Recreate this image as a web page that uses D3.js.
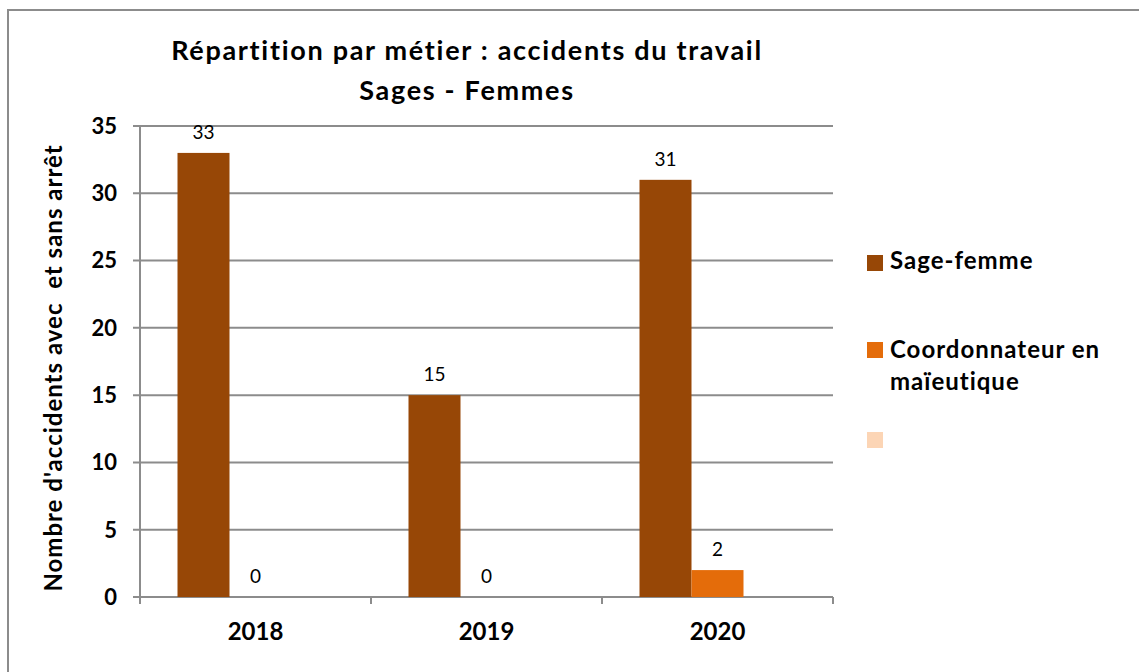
<!DOCTYPE html>
<html>
<head>
<meta charset="utf-8">
<script src="https://cdn.jsdelivr.net/npm/d3@7"></script>
<style>
  body { margin: 0; background: #fff; }
  text { font-family: Lato, "Open Sans", sans-serif; fill: #000; }
  .bold { font-weight: bold; }
</style>
</head>
<body>
<div id="viz"></div>
<script>
var years = ["2018", "2019", "2020"];
var series = ["Sage-femme", "Coordonnateur en maïeutique", ""];
var sageFemme = [33, 15, 31];
var coordonnateur = [0, 0, 2];
var empty = [null, null, null];
var yTicks = [0, 5, 10, 15, 20, 25, 30, 35];
var colors = ["#974706", "#E46C0A", "#FCD5B5"];

var width = 1139, height = 672;
var svg = d3.select("#viz").append("svg").attr("width", width).attr("height", height);

var values = [sageFemme, coordonnateur, empty];
var data = years.map(function(yr, i) {
  return { year: yr, vals: series.map(function(s, j) { return { key: j, v: values[j][i] }; }) };
});

// frame (only top and left edges are visible)
svg.append("rect")
    .attr("x", 8).attr("y", 10)
    .attr("width", 1200).attr("height", 700)
    .attr("fill", "none")
    .attr("stroke", "#8c8c8c")
    .attr("stroke-width", 2);

var plotL = 140, plotR = 833, plotT = 126, plotB = 597;

var x = d3.scaleBand().domain(years).range([plotL, plotR]);
var bw = 52;
var xs = d3.scaleBand().domain([0, 1, 2]).range([0, bw * 3]);
var y = d3.scaleLinear().domain([0, 35]).range([plotB, plotT]);

// gridlines
svg.append("g").selectAll("line")
  .data(yTicks)
  .enter().append("line")
    .attr("x1", plotL - 7).attr("x2", plotR)
    .attr("y1", function(d) { return y(d); })
    .attr("y2", function(d) { return y(d); })
    .attr("stroke", "#8c8c8c")
    .attr("stroke-width", 2);

// y axis line
svg.append("line")
    .attr("x1", plotL).attr("x2", plotL)
    .attr("y1", plotT).attr("y2", plotB + 7)
    .attr("stroke", "#8c8c8c").attr("stroke-width", 2);

// x ticks at category boundaries
var bounds = years.map(function(d) { return x(d); }).concat([plotR]);
svg.append("g").selectAll("line")
  .data(bounds)
  .enter().append("line")
    .attr("x1", function(d) { return d; }).attr("x2", function(d) { return d; })
    .attr("y1", plotB).attr("y2", plotB + 7)
    .attr("stroke", "#8c8c8c").attr("stroke-width", 2);

// y tick labels
svg.append("g").selectAll("text")
  .data(yTicks)
  .enter().append("text")
    .attr("class", "bold")
    .attr("x", 117)
    .attr("y", function(d) { return y(d); })
    .attr("dy", "0.36em")
    .attr("text-anchor", "end")
    .style("font-size", "22px")
    .text(function(d) { return d; });

// x tick labels
svg.append("g").selectAll("text")
  .data(years)
  .enter().append("text")
    .attr("class", "bold")
    .attr("x", function(d) { return x(d) + x.bandwidth() / 2; })
    .attr("y", 640)
    .attr("text-anchor", "middle")
    .style("font-size", "24px")
    .text(function(d) { return d; });

// bars
var group = svg.append("g").selectAll("g")
  .data(data)
  .enter().append("g")
    .attr("transform", function(d) { return "translate(" + (x(d.year) + (x.bandwidth() - bw * 3) / 2) + ",0)"; });

group.selectAll("rect")
  .data(function(d) { return d.vals.filter(function(v) { return v.v != null; }); })
  .enter().append("rect")
    .attr("x", function(d) { return xs(d.key); })
    .attr("width", xs.bandwidth())
    .attr("y", function(d) { return y(d.v); })
    .attr("height", function(d) { return plotB - y(d.v); })
    .attr("fill", function(d) { return colors[d.key]; });

group.selectAll("text")
  .data(function(d) { return d.vals.filter(function(v) { return v.v != null; }); })
  .enter().append("text")
    .attr("x", function(d) { return xs(d.key) + xs.bandwidth() / 2; })
    .attr("y", function(d) { return y(d.v) - 14; })
    .attr("text-anchor", "middle")
    .style("font-size", "19px")
    .text(function(d) { return d.v; });

// title
var title = svg.append("text")
    .attr("class", "bold")
    .attr("text-anchor", "middle")
    .style("font-size", "27px")
    .style("letter-spacing", "1.7px");
title.append("tspan").attr("x", 467).attr("y", 60).text("Répartition par métier : accidents du travail");
title.append("tspan").attr("x", 467).attr("y", 100).text("Sages - Femmes");

// y axis title
svg.append("text")
    .attr("class", "bold")
    .attr("transform", "translate(62,368) rotate(-90)")
    .attr("text-anchor", "middle")
    .style("font-size", "24px")
    .style("letter-spacing", "1px")
    .style("white-space", "pre")
    .text("Nombre d'accidents avec  et sans arrêt");

// legend
var legendY = [263, 350, 440];
var legend = svg.append("g").selectAll("g")
  .data(series)
  .enter().append("g")
    .attr("transform", function(d, i) { return "translate(867," + legendY[i] + ")"; });

legend.append("rect")
    .attr("x", 0).attr("y", -8)
    .attr("width", 16).attr("height", 16)
    .attr("fill", function(d, i) { return colors[i]; });

legend.append("text")
    .attr("class", "bold")
    .attr("x", 23)
    .attr("y", 6)
    .style("font-size", "24px")
    .style("letter-spacing", "1px")
    .each(function(d) {
      var t = d3.select(this);
      if (d == "Coordonnateur en maïeutique") {
        t.attr("y", 8);
        t.append("tspan").attr("x", 23).text("Coordonnateur en");
        t.append("tspan").attr("x", 23).attr("dy", 32).text("maïeutique");
      } else {
        t.text(d);
      }
    });
</script>
</body>
</html>
